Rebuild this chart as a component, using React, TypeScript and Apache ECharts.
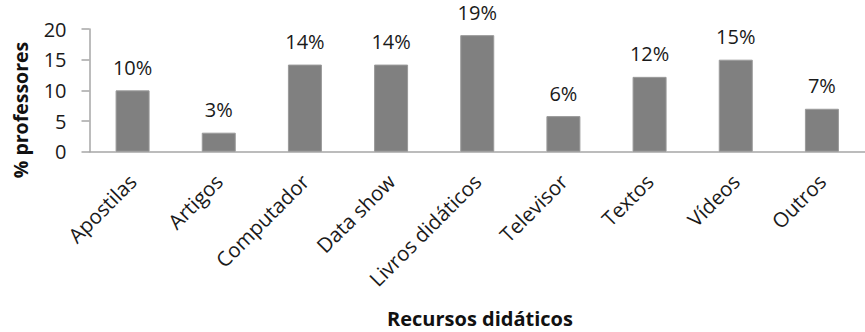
import React, { useEffect, useRef } from "react";
import * as echarts from "echarts";

const categories = ["Apostilas", "Artigos", "Computador", "Data show", "Livros didáticos", "Televisor", "Textos", "Vídeos", "Outros"];
const values = [10, 3.1, 14.2, 14.2, 19, 5.8, 12.2, 15, 7];
const yTicks = [0, 5, 10, 15, 20];
const FONT = "'Open Sans', 'Noto Sans', sans-serif";

export default function App() {
  const ref = useRef<HTMLDivElement>(null);
  useEffect(() => {
    const chart = echarts.init(ref.current!, null, { renderer: "svg" });
    chart.setOption({
      animation: false,
      backgroundColor: "#ffffff",
      grid: { left: 89.5, top: 29, width: 783, height: 122.7, containLabel: false },
      xAxis: {
        type: "category",
        data: categories,
        axisLine: { lineStyle: { color: "#a6a6a6", width: 1.5 } },
        axisTick: { show: false },
        axisLabel: { rotate: 45, margin: 26, fontSize: 20.5, color: "#1a1a1a", fontFamily: FONT, interval: 0 },
      },
      yAxis: {
        type: "value",
        min: yTicks[0],
        max: yTicks[yTicks.length - 1],
        interval: 5,
        splitLine: { show: false },
        axisLine: { show: true, lineStyle: { color: "#a6a6a6", width: 1.5 } },
        axisTick: { show: true, length: 8, lineStyle: { color: "#a6a6a6", width: 1.5 } },
        axisLabel: { margin: 23, fontSize: 20, color: "#1a1a1a", fontFamily: FONT },
      },
      series: [
        {
          type: "bar",
          data: values,
          barWidth: 34,
          itemStyle: { color: "#808080", borderColor: "#9a9a9a", borderWidth: 1 },
          label: {
            show: true,
            position: "top",
            distance: 13,
            fontSize: 20,
            color: "#1a1a1a",
            fontFamily: FONT,
            formatter: (p: any) => `${Math.round(p.value)}%`,
          },
        },
      ],
      graphic: [
        {
          type: "text",
          x: 20,
          y: 110,
          rotation: Math.PI / 2,
          style: {
            text: "% professores",
            fontSize: 19.5,
            fontWeight: "bold",
            fontFamily: FONT,
            fill: "#111",
            textAlign: "center",
            textVerticalAlign: "middle",
          },
        },
        {
          type: "text",
          x: 480,
          y: 318,
          style: {
            text: "Recursos didáticos",
            fontSize: 20,
            fontWeight: "bold",
            fontFamily: FONT,
            fill: "#111",
            textAlign: "center",
            textVerticalAlign: "middle",
          },
        },
      ],
    });
    return () => chart.dispose();
  }, []);
  return <div ref={ref} style={{ position: "fixed", left: 0, top: 0, width: 865, height: 332 }} />;
}
